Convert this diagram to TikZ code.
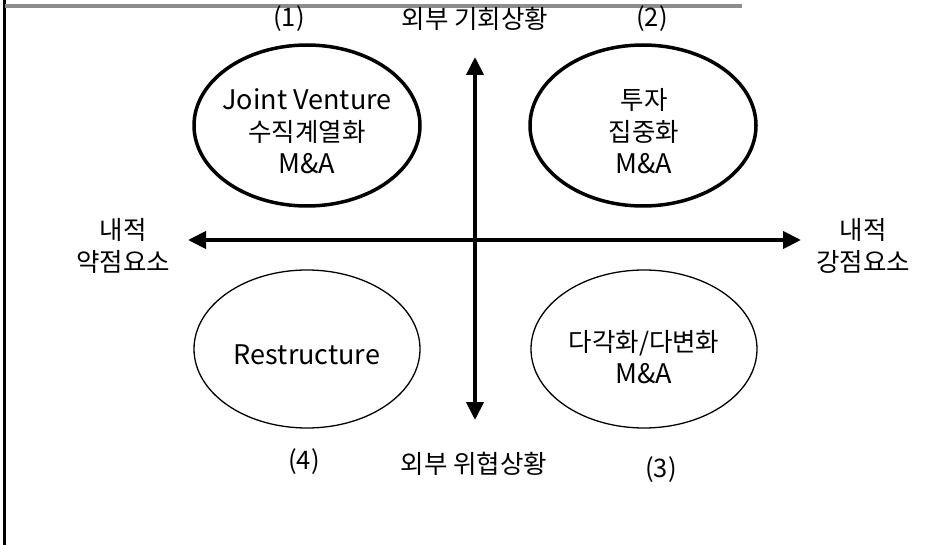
\documentclass[tikz,border=0pt]{standalone}
\usepackage{fontspec}
\setmainfont{Liberation Sans}
\newfontfamily\kr{Noto Sans CJK KR}
\usetikzlibrary{shapes.geometric,arrows.meta}
\newcommand{\lat}[1]{{\fontsize{27}{32}\selectfont #1}}
\tikzset{
  txt/.style={font=\kr\fontsize{25.5}{32}\selectfont, align=center, inner sep=0pt},
  thickell/.style={ellipse, draw, line width=3.5pt, minimum width=226pt, minimum height=161pt, inner sep=0pt},
  thinell/.style={ellipse, draw, line width=1.3pt, minimum width=226pt, minimum height=158pt, inner sep=0pt},
  axis/.style={line width=4pt, {Triangle[length=18pt,width=17pt]}-{Triangle[length=18pt,width=17pt]}}
}
\begin{document}
\begin{tikzpicture}[x=1pt,y=-1pt]
\useasboundingbox (0,0) rectangle (948,545);
\fill[white] (0,0) rectangle (948,545);
% frame lines
\coordinate (bl0) at (4.5,0);
\coordinate (bl1) at (4.5,545);
\coordinate (tl0) at (4.5,6);
\coordinate (tl1) at (742,6);
\draw[line width=3pt] (bl0) -- (bl1);
\draw[line width=4pt, black!45] (tl0) -- (tl1);
% axes
\coordinate (vt) at (475,57);
\coordinate (vb) at (475,420);
\coordinate (hl) at (188,240);
\coordinate (hr) at (801,240);
\draw[axis] (vt) -- (vb);
\draw[axis] (hl) -- (hr);
% ellipses
\node[thickell] (q1) at (307,125.5) {};
\node[thickell] (q2) at (643,125.5) {};
\node[thinell] (q4) at (307,349) {};
\node[thinell] (q3) at (644,349) {};
% ellipse texts
\node[txt] (q1t) at (307,131) {\lat{Joint Venture}\\수직계열화\\\lat{M\&A}};
\node[txt] (q2t) at (644,131) {투자\\집중화\\\lat{M\&A}};
\node[txt] (q4t) at (307,355) {\lat{Restructure}};
\node[txt] (q3t) at (644,357) {다각화/다변화\\\lat{M\&A}};
% labels
\node[txt] (t1) at (289,19) {(1)};
\node[txt] (ttop) at (475,19) {외부 기회상황};
\node[txt] (t2) at (652,19) {(2)};
\node[txt] (lleft) at (123,246) {내적\\약점요소};
\node[txt] (lright) at (863,246) {내적\\강점요소};
\node[txt] (t4) at (304,462) {(4)};
\node[txt] (tbot) at (474,464) {외부 위협상황};
\node[txt] (t3) at (661,470) {(3)};
\end{tikzpicture}
\end{document}
